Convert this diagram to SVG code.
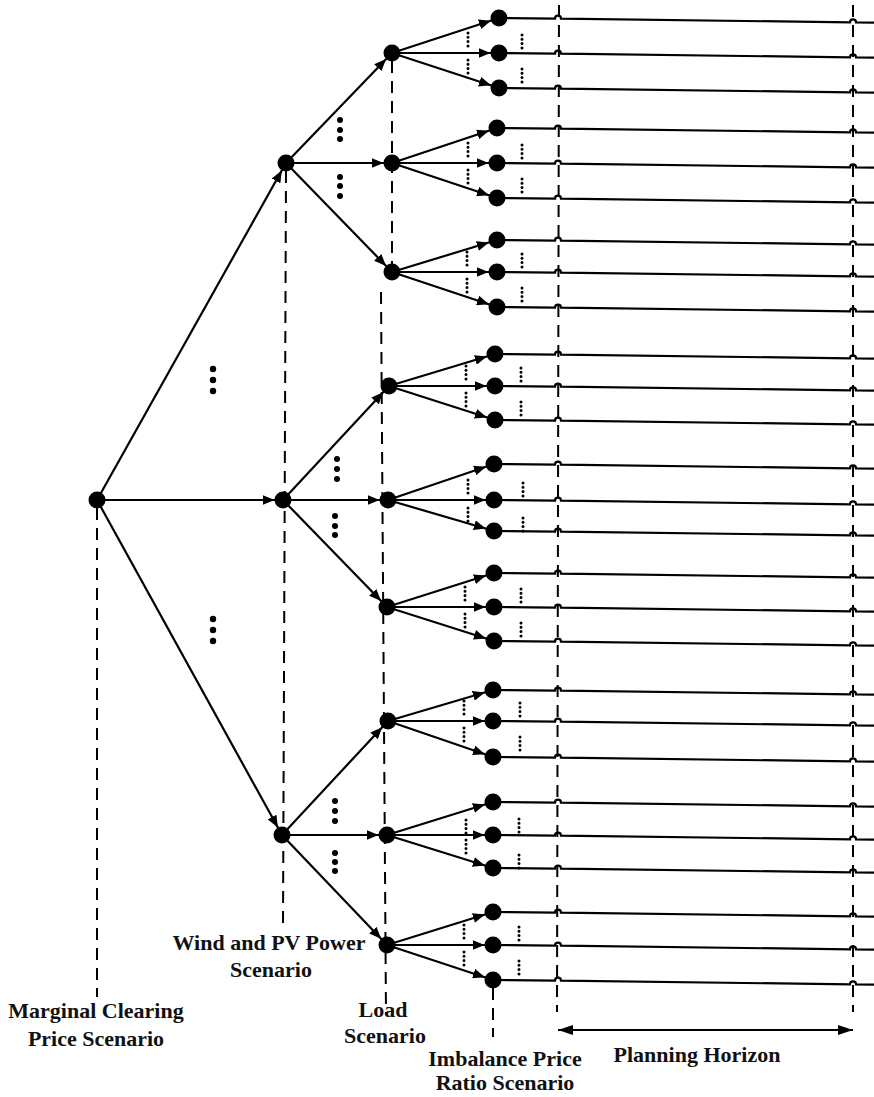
<svg xmlns="http://www.w3.org/2000/svg" width="874" height="1097" viewBox="0 0 874 1097">
<style>
.e{stroke:#000;stroke-width:2.2;fill:none;marker-end:url(#ah)}
.h{stroke:#000;stroke-width:2.2;fill:none}
.d{stroke:#000;stroke-width:2;fill:none;stroke-dasharray:12 8}
.sd{stroke:#000;stroke-width:3;fill:none;stroke-dasharray:0 4.3;stroke-linecap:round}
.n{fill:#000}
.bd{fill:#000}
text{font-family:"Liberation Serif","Times New Roman",serif;font-weight:bold;font-size:22px;fill:#111;text-anchor:middle}
</style>
<defs>
<marker id="ah" markerUnits="userSpaceOnUse" markerWidth="22" markerHeight="10" refX="20.5" refY="5" orient="auto">
<path d="M0,0 L12,5 L0,10 z" fill="#000"/>
</marker>
<marker id="ph" markerUnits="userSpaceOnUse" markerWidth="16" markerHeight="10" refX="15" refY="5" orient="auto-start-reverse">
<path d="M0,0 L15,5 L0,10 z" fill="#000"/>
</marker>
</defs>
<rect width="874" height="1097" fill="#fff"/>
<g id="guides">
<path class="d" d="M97 508 V997"/>
<path class="d" d="M286 171 L283 925"/>
<path class="d" d="M392 61 V265"/>
<path class="d" d="M381 292 L386 1015"/>
<path class="d" d="M493 988 V1037"/>
<path class="d" d="M559 5 L557 1012"/>
<path class="d" d="M853 5 V1012"/>
</g>
<g id="connectors">
<path class="e" d="M97 500 L286 163"/>
<path class="e" d="M97 500 L283 500"/>
<path class="e" d="M97 500 L282 835"/>
<path class="e" d="M286 163 L392 53"/>
<path class="e" d="M286 163 L392 163"/>
<path class="e" d="M286 163 L392 272"/>
<path class="e" d="M283 500 L389 386"/>
<path class="e" d="M283 500 L388 500"/>
<path class="e" d="M283 500 L387 607"/>
<path class="e" d="M282 835 L388 721"/>
<path class="e" d="M282 835 L387 835"/>
<path class="e" d="M282 835 L387 945"/>
<path class="e" d="M392 53 L499 18"/>
<path class="e" d="M392 53 L499 53"/>
<path class="e" d="M392 53 L499 88"/>
<path class="e" d="M392 163 L497 128"/>
<path class="e" d="M392 163 L497 163"/>
<path class="e" d="M392 163 L497 198"/>
<path class="e" d="M392 272 L497 240"/>
<path class="e" d="M392 272 L497 272"/>
<path class="e" d="M392 272 L497 307"/>
<path class="e" d="M389 386 L495 354"/>
<path class="e" d="M389 386 L495 386"/>
<path class="e" d="M389 386 L495 420"/>
<path class="e" d="M388 500 L494 464"/>
<path class="e" d="M388 500 L494 500"/>
<path class="e" d="M388 500 L494 531"/>
<path class="e" d="M387 607 L494 573"/>
<path class="e" d="M387 607 L494 607"/>
<path class="e" d="M387 607 L494 641"/>
<path class="e" d="M388 721 L493 690"/>
<path class="e" d="M388 721 L493 721"/>
<path class="e" d="M388 721 L493 757"/>
<path class="e" d="M387 835 L493 802"/>
<path class="e" d="M387 835 L493 835"/>
<path class="e" d="M387 835 L493 868"/>
<path class="e" d="M387 945 L493 912"/>
<path class="e" d="M387 945 L493 945"/>
<path class="e" d="M387 945 L493 980"/>
<g id="horizon-lines">
<path class="h" d="M499 18 L555 18.7 a3 3 0 0 1 6 0 L850 22.3 a3 3 0 0 1 6 0 L874 22.6"/>
<path class="h" d="M499 53 L555 53.7 a3 3 0 0 1 6 0 L850 57.3 a3 3 0 0 1 6 0 L874 57.6"/>
<path class="h" d="M499 88 L555 88.7 a3 3 0 0 1 6 0 L850 92.3 a3 3 0 0 1 6 0 L874 92.6"/>
<path class="h" d="M497 128 L555 128.7 a3 3 0 0 1 6 0 L850 132.3 a3 3 0 0 1 6 0 L874 132.6"/>
<path class="h" d="M497 163 L555 163.7 a3 3 0 0 1 6 0 L850 167.3 a3 3 0 0 1 6 0 L874 167.6"/>
<path class="h" d="M497 198 L555 198.7 a3 3 0 0 1 6 0 L850 202.3 a3 3 0 0 1 6 0 L874 202.6"/>
<path class="h" d="M497 240 L555 240.7 a3 3 0 0 1 6 0 L850 244.3 a3 3 0 0 1 6 0 L874 244.6"/>
<path class="h" d="M497 272 L555 272.7 a3 3 0 0 1 6 0 L850 276.3 a3 3 0 0 1 6 0 L874 276.6"/>
<path class="h" d="M497 307 L555 307.7 a3 3 0 0 1 6 0 L850 311.3 a3 3 0 0 1 6 0 L874 311.6"/>
<path class="h" d="M495 354 L555 354.7 a3 3 0 0 1 6 0 L850 358.3 a3 3 0 0 1 6 0 L874 358.6"/>
<path class="h" d="M495 386 L555 386.7 a3 3 0 0 1 6 0 L850 390.3 a3 3 0 0 1 6 0 L874 390.6"/>
<path class="h" d="M495 420 L555 420.7 a3 3 0 0 1 6 0 L850 424.3 a3 3 0 0 1 6 0 L874 424.6"/>
<path class="h" d="M494 464 L555 464.7 a3 3 0 0 1 6 0 L850 468.3 a3 3 0 0 1 6 0 L874 468.6"/>
<path class="h" d="M494 500 L555 500.7 a3 3 0 0 1 6 0 L850 504.3 a3 3 0 0 1 6 0 L874 504.6"/>
<path class="h" d="M494 531 L555 531.7 a3 3 0 0 1 6 0 L850 535.3 a3 3 0 0 1 6 0 L874 535.6"/>
<path class="h" d="M494 573 L555 573.7 a3 3 0 0 1 6 0 L850 577.3 a3 3 0 0 1 6 0 L874 577.6"/>
<path class="h" d="M494 607 L555 607.7 a3 3 0 0 1 6 0 L850 611.3 a3 3 0 0 1 6 0 L874 611.6"/>
<path class="h" d="M494 641 L555 641.7 a3 3 0 0 1 6 0 L850 645.3 a3 3 0 0 1 6 0 L874 645.6"/>
<path class="h" d="M493 690 L555 690.7 a3 3 0 0 1 6 0 L850 694.3 a3 3 0 0 1 6 0 L874 694.6"/>
<path class="h" d="M493 721 L555 721.7 a3 3 0 0 1 6 0 L850 725.3 a3 3 0 0 1 6 0 L874 725.6"/>
<path class="h" d="M493 757 L555 757.7 a3 3 0 0 1 6 0 L850 761.3 a3 3 0 0 1 6 0 L874 761.6"/>
<path class="h" d="M493 802 L555 802.7 a3 3 0 0 1 6 0 L850 806.3 a3 3 0 0 1 6 0 L874 806.6"/>
<path class="h" d="M493 835 L555 835.7 a3 3 0 0 1 6 0 L850 839.3 a3 3 0 0 1 6 0 L874 839.6"/>
<path class="h" d="M493 868 L555 868.7 a3 3 0 0 1 6 0 L850 872.3 a3 3 0 0 1 6 0 L874 872.6"/>
<path class="h" d="M493 912 L555 912.7 a3 3 0 0 1 6 0 L850 916.3 a3 3 0 0 1 6 0 L874 916.6"/>
<path class="h" d="M493 945 L555 945.7 a3 3 0 0 1 6 0 L850 949.3 a3 3 0 0 1 6 0 L874 949.6"/>
<path class="h" d="M493 980 L555 980.7 a3 3 0 0 1 6 0 L850 984.3 a3 3 0 0 1 6 0 L874 984.6"/>
</g>
<path class="h" d="M558 1030 L853 1030" marker-start="url(#ph)" marker-end="url(#ph)"/>
</g>
<g id="ellipses">
<circle class="bd" cx="213" cy="369" r="3.2"/><circle class="bd" cx="213" cy="380" r="3.2"/><circle class="bd" cx="213" cy="391" r="3.2"/>
<circle class="bd" cx="213" cy="619" r="3.2"/><circle class="bd" cx="213" cy="630" r="3.2"/><circle class="bd" cx="213" cy="641" r="3.2"/>
<circle class="bd" cx="340" cy="120" r="3"/><circle class="bd" cx="340" cy="130" r="3"/><circle class="bd" cx="340" cy="139" r="3"/>
<circle class="bd" cx="340" cy="177" r="3"/><circle class="bd" cx="340" cy="186" r="3"/><circle class="bd" cx="340" cy="196" r="3"/>
<circle class="bd" cx="337" cy="459" r="3"/><circle class="bd" cx="337" cy="469" r="3"/><circle class="bd" cx="337" cy="479" r="3"/>
<circle class="bd" cx="335" cy="516" r="3"/><circle class="bd" cx="335" cy="526" r="3"/><circle class="bd" cx="335" cy="535" r="3"/>
<circle class="bd" cx="335" cy="801" r="3"/><circle class="bd" cx="335" cy="811" r="3"/><circle class="bd" cx="335" cy="821" r="3"/>
<circle class="bd" cx="335" cy="853" r="3"/><circle class="bd" cx="335" cy="862" r="3"/><circle class="bd" cx="335" cy="871" r="3"/>
<path class="sd" d="M468 33 V46 M468 60 V73 M522 35 V49 M522 69 V83"/>
<path class="sd" d="M468 143 V156 M468 170 V183 M522 145 V159 M522 179 V193"/>
<path class="sd" d="M467 252 V265 M467 279 V292 M522 254 V268 M522 288 V302"/>
<path class="sd" d="M466 366 V379 M466 393 V406 M521 368 V382 M521 402 V416"/>
<path class="sd" d="M468 480 V493 M468 508 V521 M523 483 V497 M523 518 V532"/>
<path class="sd" d="M465 587 V600 M465 614 V627 M521 589 V603 M521 623 V637"/>
<path class="sd" d="M464 701 V714 M464 728 V741 M520 703 V717 M520 737 V751"/>
<path class="sd" d="M466 820 V833 M466 840 V853 M519 819 V832 M519 855 V869"/>
<path class="sd" d="M464 925 V938 M464 952 V965 M519 927 V941 M519 961 V975"/>
</g>
<g id="node-root"><circle class="n" cx="97" cy="500" r="8.5"/></g>
<g id="node-w1"><circle class="n" cx="286" cy="163" r="8.5"/></g>
<g id="node-w2"><circle class="n" cx="283" cy="500" r="8.5"/></g>
<g id="node-w3"><circle class="n" cx="282" cy="835" r="8.5"/></g>
<g id="node-l1"><circle class="n" cx="392" cy="53" r="8.5"/></g>
<g id="node-l2"><circle class="n" cx="392" cy="163" r="8.5"/></g>
<g id="node-l3"><circle class="n" cx="392" cy="272" r="8.5"/></g>
<g id="node-l4"><circle class="n" cx="389" cy="386" r="8.5"/></g>
<g id="node-l5"><circle class="n" cx="388" cy="500" r="8.5"/></g>
<g id="node-l6"><circle class="n" cx="387" cy="607" r="8.5"/></g>
<g id="node-l7"><circle class="n" cx="388" cy="721" r="8.5"/></g>
<g id="node-l8"><circle class="n" cx="387" cy="835" r="8.5"/></g>
<g id="node-l9"><circle class="n" cx="387" cy="945" r="8.5"/></g>
<g id="leaves">
<g id="leaf-1"><circle class="n" cx="499" cy="18" r="8.5"/></g>
<g id="leaf-2"><circle class="n" cx="499" cy="53" r="8.5"/></g>
<g id="leaf-3"><circle class="n" cx="499" cy="88" r="8.5"/></g>
<g id="leaf-4"><circle class="n" cx="497" cy="128" r="8.5"/></g>
<g id="leaf-5"><circle class="n" cx="497" cy="163" r="8.5"/></g>
<g id="leaf-6"><circle class="n" cx="497" cy="198" r="8.5"/></g>
<g id="leaf-7"><circle class="n" cx="497" cy="240" r="8.5"/></g>
<g id="leaf-8"><circle class="n" cx="497" cy="272" r="8.5"/></g>
<g id="leaf-9"><circle class="n" cx="497" cy="307" r="8.5"/></g>
<g id="leaf-10"><circle class="n" cx="495" cy="354" r="8.5"/></g>
<g id="leaf-11"><circle class="n" cx="495" cy="386" r="8.5"/></g>
<g id="leaf-12"><circle class="n" cx="495" cy="420" r="8.5"/></g>
<g id="leaf-13"><circle class="n" cx="494" cy="464" r="8.5"/></g>
<g id="leaf-14"><circle class="n" cx="494" cy="500" r="8.5"/></g>
<g id="leaf-15"><circle class="n" cx="494" cy="531" r="8.5"/></g>
<g id="leaf-16"><circle class="n" cx="494" cy="573" r="8.5"/></g>
<g id="leaf-17"><circle class="n" cx="494" cy="607" r="8.5"/></g>
<g id="leaf-18"><circle class="n" cx="494" cy="641" r="8.5"/></g>
<g id="leaf-19"><circle class="n" cx="493" cy="690" r="8.5"/></g>
<g id="leaf-20"><circle class="n" cx="493" cy="721" r="8.5"/></g>
<g id="leaf-21"><circle class="n" cx="493" cy="757" r="8.5"/></g>
<g id="leaf-22"><circle class="n" cx="493" cy="802" r="8.5"/></g>
<g id="leaf-23"><circle class="n" cx="493" cy="835" r="8.5"/></g>
<g id="leaf-24"><circle class="n" cx="493" cy="868" r="8.5"/></g>
<g id="leaf-25"><circle class="n" cx="493" cy="912" r="8.5"/></g>
<g id="leaf-26"><circle class="n" cx="493" cy="945" r="8.5"/></g>
<g id="leaf-27"><circle class="n" cx="493" cy="980" r="8.5"/></g>
</g>
<g id="labels">
<text x="96" y="1018">Marginal Clearing</text>
<text x="96" y="1046">Price Scenario</text>
<text x="269" y="950">Wind and PV Power</text>
<text x="271" y="977">Scenario</text>
<text x="383" y="1017">Load</text>
<text x="385" y="1043">Scenario</text>
<text x="505" y="1066">Imbalance Price</text>
<text x="505" y="1090">Ratio Scenario</text>
<text x="697" y="1062">Planning Horizon</text>
</g>
</svg>
